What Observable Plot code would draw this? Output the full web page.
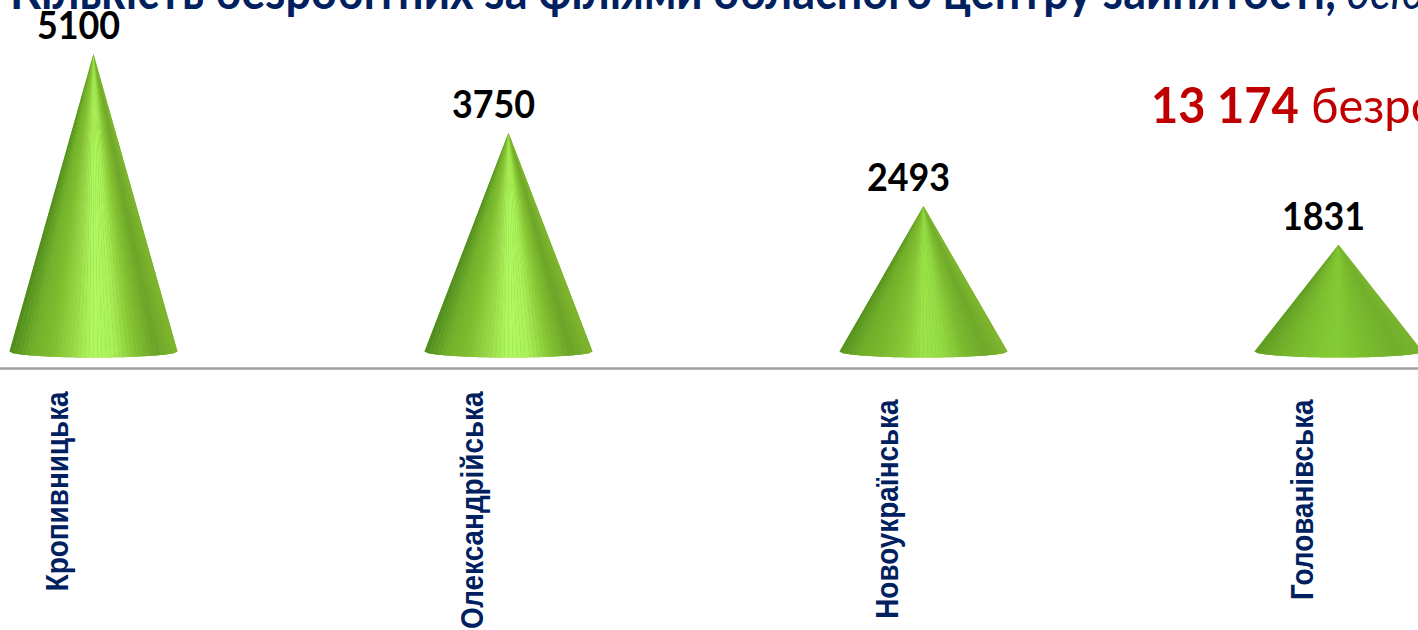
<!DOCTYPE html>
<html><head><meta charset="utf-8">
<script src="https://cdn.jsdelivr.net/npm/d3@7"></script>
<script src="https://cdn.jsdelivr.net/npm/@observablehq/plot@0.6"></script>
<style>
html,body{margin:0;padding:0;background:#fff;width:1418px;height:630px;overflow:hidden}
#wrap{position:relative;width:1418px;height:630px;overflow:hidden}
#title{position:absolute;left:10px;top:-34px;white-space:nowrap;font:700 50px Lato,sans-serif;color:#002060;line-height:48px;transform:scaleX(.9);transform-origin:left top}
#title i{font-weight:400}
#total{position:absolute;left:1151px;top:76px;white-space:nowrap;font:400 49px Lato,sans-serif;color:#c00000;line-height:56px;transform:scaleX(.96);transform-origin:left top}
#total b{font-weight:700}
svg{display:block}
</style></head><body>
<div id="wrap">
<div id="chart"></div>
<div id="title"></div>
<div id="total"></div>
</div>
<script>
const titleBold = "Кількість безробітних за філіями обласного центру зайнятості,";
const titleItalic = "осіб";
const totalNumber = "13 174";
const totalWord = "безробітних";
const categories = ["Кропивницька","Олександрійська","Новоукраїнська","Голованівська"];
const values = [5100,3750,2493,1831];
const labelsHigh = [true,true,false,false];
const shades = [
  ["#4f8a1e","#6fae2a","#7fbd30","#98d848","#b2fa62","#aaf058","#84c232","#6ba328","#7fb62e"],
  ["#4f8a1e","#6fae2a","#7fbd30","#98d848","#b2fa62","#aaf058","#84c232","#6ba328","#7fb62e"],
  ["#55911f","#70ae2a","#7cb82e","#88c838","#9ce64a","#94da44","#7cba30","#6ea82a","#7fb62e"],
  ["#5f9a22","#70ae2a","#7abc2e","#80c632","#84cc36","#7cc030","#76b62e","#70ae2a","#7ab430"]
];
const coneBaseColour = "#84c232";
const baseLineValue = -290;
const halfWidth = 0.2024;
const baseDepth = 103;
const facetCount = 40;

document.getElementById("title").innerHTML = titleBold + " <i>" + titleItalic + "</i>";
document.getElementById("total").innerHTML = "<b>" + totalNumber + "</b> " + totalWord;

const rows = categories.map((category,i)=>({category,value:values[i],index:i,high:labelsHigh[i]}));
const bottom = u => -baseDepth*Math.sqrt(Math.max(0,1-u*u));
const facetVertices = [], outlineVertices = [];
rows.forEach(r=>{
  const colour = d3.piecewise(d3.interpolateRgb, shades[r.index]);
  outlineVertices.push({cone:r.index,x:r.index,y:r.value});
  for(let f=0;f<=facetCount;f++){
    const u=-1+2*f/facetCount;
    outlineVertices.push({cone:r.index,x:r.index+u*halfWidth,y:bottom(u)});
  }
  for(let f=0;f<facetCount;f++){
    const a=-1+2*f/facetCount, b=-1+2*(f+1)/facetCount, t=(f+.5)/facetCount;
    const fill=colour(t), facet=r.index+"-"+f;
    facetVertices.push(
      {facet,fill,x:r.index,y:r.value},
      {facet,fill,x:r.index+a*halfWidth,y:bottom(a)},
      {facet,fill,x:r.index+b*halfWidth,y:bottom(b)}
    );
  }
});

const labelStyle={text:"category",x:"index",y:baseLineValue,rotate:-90,textAnchor:"end",lineAnchor:"middle",fill:"#002060",
  fontFamily:"'Liberation Sans',Arial,sans-serif",fontWeight:700,fontSize:31.5,dx:-35.5,className:"narrow-text"};

const chart = Plot.plot({
  width:1418,height:630,margin:0,
  x:{domain:[0,3],range:[93,1338],axis:null},
  y:{domain:[0,5100],range:[351,53.5],axis:null},
  color:{type:"identity"},
  style:{background:"transparent"},
  marks:[
    Plot.ruleY([baseLineValue],{stroke:"#a0a0a0",strokeWidth:2.5}),
    Plot.line(outlineVertices,{x:"x",y:"y",z:"cone",fill:coneBaseColour,stroke:"none",curve:"linear-closed"}),
    Plot.line(facetVertices,{x:"x",y:"y",z:"facet",fill:"fill",stroke:"none",curve:"linear-closed"}),
    Plot.text(rows,{x:"index",y:"value",text:d=>String(d.value),dx:-15,dy:-15,lineAnchor:"bottom",fill:"#000",
      fontFamily:"Lato,sans-serif",fontWeight:700,fontSize:39,className:"narrow-value"}),
    Plot.text(rows.filter(d=>d.high),{...labelStyle,dy:23}),
    Plot.text(rows.filter(d=>!d.high),{...labelStyle,dy:31})
  ]
});
document.getElementById("chart").appendChild(chart);
const squeeze=(sel,k)=>chart.querySelectorAll(sel+" text").forEach(t=>{
  t.setAttribute("lengthAdjust","spacingAndGlyphs");
  t.setAttribute("textLength",t.getComputedTextLength()*k);
});
squeeze(".narrow-text",0.885);
squeeze(".narrow-value",0.92);
</script>
</body></html>
